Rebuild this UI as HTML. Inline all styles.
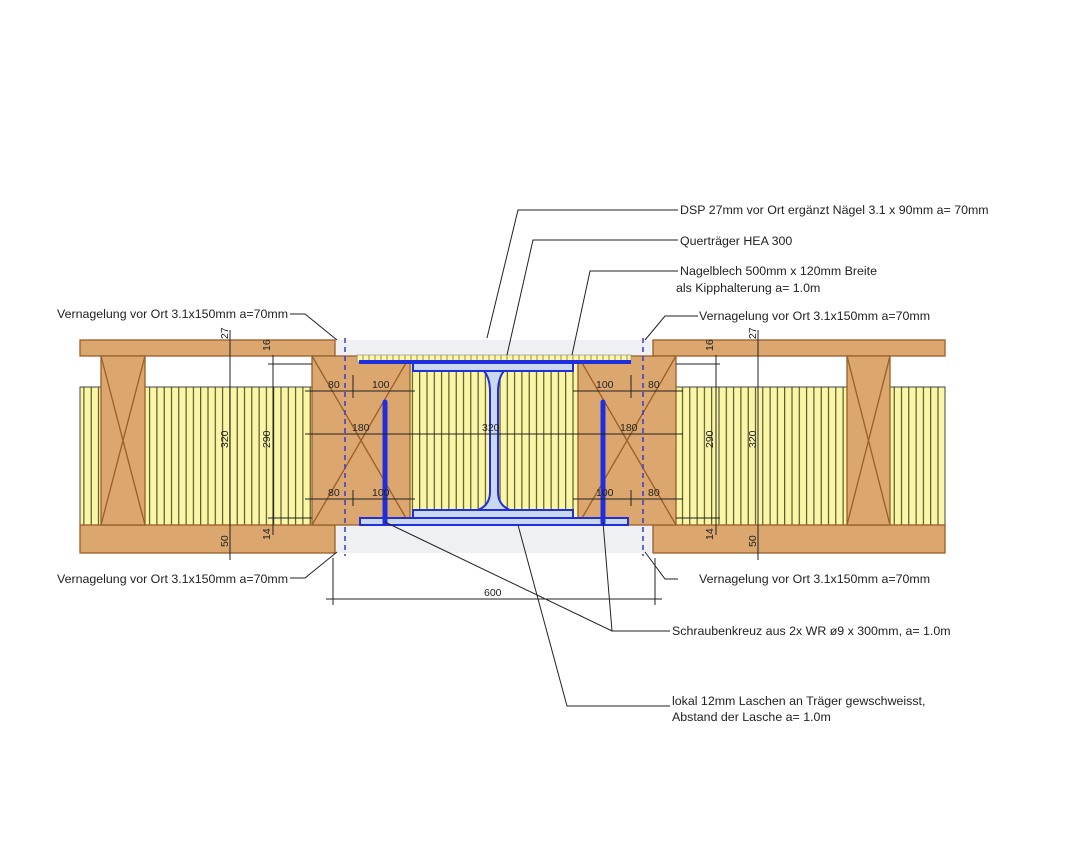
<!DOCTYPE html>
<html><head><meta charset="utf-8"><style>
html,body{margin:0;padding:0;background:#fff}
svg{display:block}
text{font-family:"Liberation Sans",Arial,sans-serif;fill:#222}
</style></head><body>
<svg width="1066" height="859" viewBox="0 0 1066 859" xmlns="http://www.w3.org/2000/svg">
<defs>
<pattern id="ins" x="0" y="0" width="7.3" height="10" patternUnits="userSpaceOnUse">
<rect width="7.3" height="10" fill="#fbf5a6"/><line x1="3.6" y1="0" x2="3.6" y2="10" stroke="#3a3a1a" stroke-width="1"/>
</pattern>
<pattern id="ins2" x="0" y="0" width="6" height="10" patternUnits="userSpaceOnUse">
<rect width="6" height="10" fill="#fbf5a6"/><line x1="3" y1="0" x2="3" y2="10" stroke="#6a6a3a" stroke-width="0.7"/>
</pattern>
</defs>
<g stroke="#9a5e28" stroke-width="1.3">
<rect x="335" y="340" width="318" height="213" fill="#eef0f4" stroke="none"/>
<rect x="80" y="340" width="255" height="16" fill="#dba76f"/>
<rect x="653" y="340" width="292" height="16" fill="#dba76f"/>
<rect x="80" y="387" width="232" height="138" fill="url(#ins)" stroke="#444" stroke-width="1"/>
<rect x="676" y="387" width="269" height="138" fill="url(#ins)" stroke="#444" stroke-width="1"/>
<rect x="410" y="356" width="168" height="169" fill="url(#ins)" stroke="none"/>
<rect x="80" y="525" width="255" height="28" fill="#dba76f"/>
<rect x="653" y="525" width="292" height="28" fill="#dba76f"/>
<rect x="101" y="356" width="44" height="169" fill="#dba76f"/>
<line x1="101" y1="356" x2="145" y2="525"/><line x1="145" y1="356" x2="101" y2="525"/>
<rect x="847" y="356" width="43" height="169" fill="#dba76f"/>
<line x1="847" y1="356" x2="890" y2="525"/><line x1="890" y1="356" x2="847" y2="525"/>
<rect x="312" y="356" width="98" height="169" fill="#dba76f"/>
<line x1="312" y1="525" x2="410" y2="356"/><line x1="312" y1="356" x2="410" y2="525"/>
<rect x="578" y="356" width="98" height="169" fill="#dba76f"/>
<line x1="578" y1="525" x2="676" y2="356"/><line x1="578" y1="356" x2="676" y2="525"/>
</g>
<rect x="357" y="355" width="274" height="7" fill="url(#ins2)" stroke="#888" stroke-width="0.6"/>
<g fill="#c9d8ec" stroke="#1f2fe0" stroke-width="2">
<rect x="360" y="361" width="270" height="2"/>
<rect x="413" y="363" width="160" height="8"/>
<rect x="413" y="510" width="160" height="8"/>
<path d="M484 371 Q490 378 490 392 L490 492 Q490 505 478 510 L510 510 Q498 505 498 492 L498 392 Q498 378 504 371 Z" />
<rect x="360" y="518" width="268" height="7"/>
</g>
<g stroke="#1f2fe0" stroke-width="5" stroke-linecap="round">
<line x1="385" y1="402" x2="385" y2="523"/><line x1="603" y1="402" x2="603" y2="523"/>
</g>
<g stroke="#3a3ad0" stroke-width="1.5" stroke-dasharray="5,4">
<line x1="345" y1="338" x2="345" y2="556"/><line x1="643" y1="338" x2="643" y2="556"/>
</g>
<g stroke="#222" stroke-width="1" fill="none">
<line x1="230" y1="330" x2="230" y2="560"/><line x1="273" y1="355" x2="273" y2="535"/>
<line x1="758" y1="330" x2="758" y2="560"/><line x1="716" y1="355" x2="716" y2="535"/>
<line x1="268" y1="364" x2="312" y2="364"/><line x1="268" y1="518" x2="312" y2="518"/>
<line x1="676" y1="364" x2="720" y2="364"/><line x1="676" y1="518" x2="720" y2="518"/>
<line x1="305" y1="391" x2="415" y2="391"/><line x1="573" y1="391" x2="683" y2="391"/>
<line x1="305" y1="434" x2="683" y2="434"/>
<line x1="305" y1="499" x2="415" y2="499"/><line x1="573" y1="499" x2="683" y2="499"/>
<line x1="353" y1="375" x2="353" y2="398"/><line x1="631" y1="375" x2="631" y2="398"/>
<line x1="353" y1="490" x2="353" y2="506"/><line x1="631" y1="490" x2="631" y2="506"/>
<line x1="333" y1="558" x2="333" y2="605"/><line x1="655" y1="558" x2="655" y2="605"/>
<line x1="326" y1="599" x2="662" y2="599"/>
<polyline points="678,210 518,210 487,338"/>
<polyline points="678,240 533,240 507,355"/>
<polyline points="678,271 590,271 572,355"/>
<polyline points="698,316 665,316 645,340"/>
<polyline points="290,314 305,314 337,340"/>
<polyline points="290,578 305,578 337,552"/>
<polyline points="678,579 665,579 645,552"/>
<polyline points="385,522 612,631 670,631"/>
<line x1="603" y1="522" x2="612" y2="631"/>
<polyline points="518,525 567,706 670,706"/>
</g>
<g font-size="12.4">
<text x="680" y="214">DSP 27mm vor Ort ergänzt Nägel 3.1 x 90mm a= 70mm</text>
<text x="680" y="245">Querträger HEA 300</text>
<text x="680" y="275">Nagelblech 500mm x 120mm Breite</text>
<text x="676" y="292">als Kipphalterung a= 1.0m</text>
<text x="699" y="320">Vernagelung vor Ort 3.1x150mm a=70mm</text>
<text x="57" y="318">Vernagelung vor Ort 3.1x150mm a=70mm</text>
<text x="57" y="583">Vernagelung vor Ort 3.1x150mm a=70mm</text>
<text x="699" y="583">Vernagelung vor Ort 3.1x150mm a=70mm</text>
<text x="672" y="635">Schraubenkreuz aus 2x WR ø9 x 300mm, a= 1.0m</text>
<text x="672" y="705">lokal 12mm Laschen an Träger gewschweisst,</text>
<text x="672" y="721">Abstand der Lasche a= 1.0m</text>
</g>
<g font-size="10.5">
<text x="328" y="388">80</text><text x="372" y="388">100</text>
<text x="596" y="388">100</text><text x="648" y="388">80</text>
<text x="352" y="431">180</text><text x="482" y="431">320</text><text x="620" y="431">180</text>
<text x="328" y="496">80</text><text x="372" y="496">100</text>
<text x="596" y="496">100</text><text x="648" y="496">80</text>
<text x="484" y="596">600</text>
<text transform="translate(228,448) rotate(-90)">320</text>
<text transform="translate(270,448) rotate(-90)">290</text>
<text transform="translate(756,448) rotate(-90)">320</text>
<text transform="translate(713,448) rotate(-90)">290</text>
<text transform="translate(228,339) rotate(-90)">27</text>
<text transform="translate(270,351) rotate(-90)">16</text>
<text transform="translate(756,339) rotate(-90)">27</text>
<text transform="translate(713,351) rotate(-90)">16</text>
<text transform="translate(228,547) rotate(-90)">50</text>
<text transform="translate(270,540) rotate(-90)">14</text>
<text transform="translate(756,547) rotate(-90)">50</text>
<text transform="translate(713,540) rotate(-90)">14</text>
</g>
</svg>
</body></html>
